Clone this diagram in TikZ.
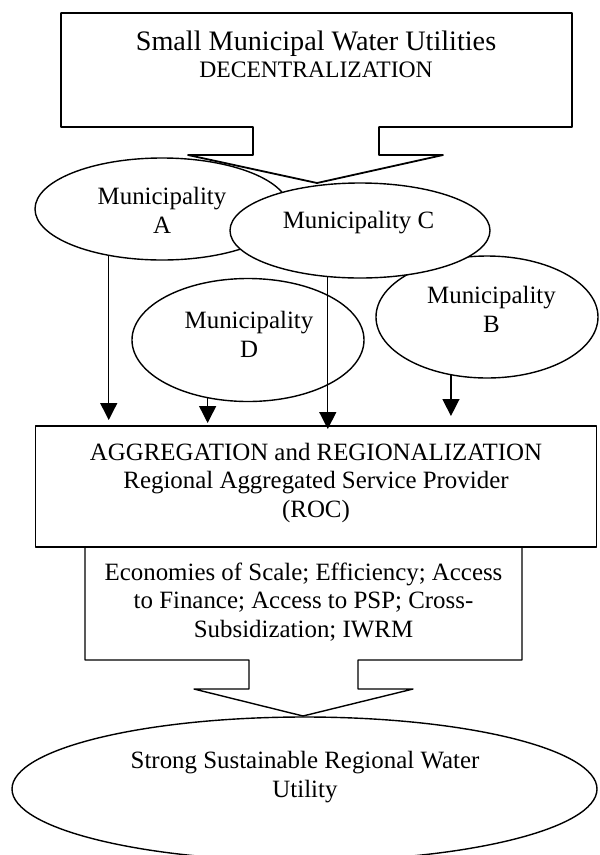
\documentclass[tikz,border=0pt]{standalone}
\usepackage{fontspec}
\setmainfont{Liberation Serif}
\usetikzlibrary{arrows.meta,shapes.geometric}

\begin{document}
\begin{tikzpicture}[x=1pt,y=-1pt,
  line width=1.4pt, line join=round,
  muni/.style={draw, ellipse, fill=white, inner sep=0pt, outer sep=0pt},
  boxshape/.style={draw, rectangle, inner sep=0pt, outer sep=0pt},
  % multi-line labels sit on the baseline of their last line
  lbl/.style={font=\fontsize{24.9}{28.5}\selectfont, align=center, inner sep=0pt, anchor=base},
  flow/.style={-{Triangle[length=17pt,width=17pt]}},
]
\useasboundingbox (0,0) rectangle (600,855);

% upper banner with its downward arrow
\draw[line width=1.8pt] (61,13) -- (572,13) -- (572,127) -- (379,127) -- (379,155)
  -- (443,155) -- (317,183) -- (188,155) -- (253,155) -- (253,127) -- (61,127) -- cycle;
\node[lbl, font=\fontsize{28.2}{32}\selectfont] (title) at (316,50) {Small Municipal Water Utilities};
\node[lbl, font=\fontsize{23.6}{27}\selectfont] (subtitle) at (316,77) {DECENTRALIZATION};

% municipalities
\node[muni, minimum width=254pt, minimum height=102pt] (A) at (162,209) {};
\node[muni, minimum width=222pt, minimum height=122pt] (B) at (487,317) {};
\node[muni, minimum width=232pt, minimum height=123pt] (D) at (248,340) {};
\node[muni, minimum width=260pt, minimum height=95pt] (C) at (360,230.5) {};
\node[lbl] (At) at (162,233) {Municipality\\A};
\node[lbl] (Ct) at (358.5,228) {Municipality C};
\node[lbl] (Bt) at (491.5,332) {Municipality\\B};
\node[lbl] (Dt) at (249,357) {Municipality\\D};

% regional provider
\node[boxshape, minimum width=561pt, minimum height=121pt] (agg) at (316.25,486.5) {};
\node[lbl] (aggt) at (316,517) {AGGREGATION and REGIONALIZATION\\Regional Aggregated Service Provider\\(ROC)};

% flows into the regional provider
\draw[flow, shorten >=6pt] (A.221) -- (A.221 |- agg.north);
\draw[flow, shorten >=3pt] (D.235) -- (D.235 |- agg.north);
\draw[flow, shorten >=-3pt] (C.235) -- (C.235 |- agg.north);
\draw[flow, shorten >=10pt] (B.238) -- (B.238 |- agg.north);

% benefits banner with its downward arrow
\draw (85,547) -- (85,660) -- (249,660) -- (249,689) -- (194,689) -- (303,716)
  -- (413,689) -- (358,689) -- (358,660) -- (522,660) -- (522,547);
\node[lbl] (bent) at (303.5,637) {Economies of Scale; Efficiency; Access\\to Finance; Access to PSP; Cross-\\Subsidization; IWRM};

% outcome
\node[muni, fill=none, minimum width=585pt, minimum height=144pt] (goal) at (304.5,789) {};
\node[lbl] (goalt) at (305,797) {Strong Sustainable Regional Water\\Utility};
\end{tikzpicture}
\end{document}
